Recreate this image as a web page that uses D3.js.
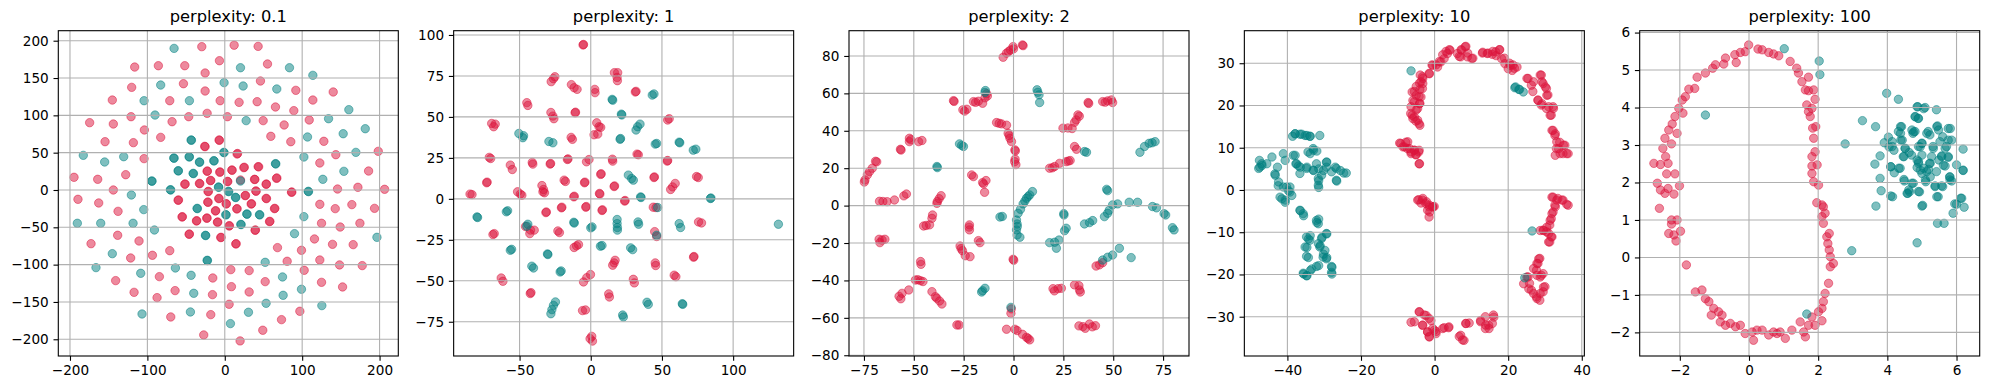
<!DOCTYPE html>
<html lang="en">
  <head>
    <meta charset="utf-8">
    <title>t-SNE perplexity</title>
    <script src="https://cdn.jsdelivr.net/npm/d3@7"></script>
    <style>
      body { margin: 0; background: #fff; }
      text { font-family: "DejaVu Sans", sans-serif; }
    </style>
  </head>
  <body>
    <script>
    var titles = ["perplexity: 0.1", "perplexity: 1", "perplexity: 2", "perplexity: 10", "perplexity: 100"];

    var xDomains = [[-215.1, 224.2], [-96.3, 142.5], [-82.5, 88.0], [-51.7, 40.7], [-3.16, 6.67]];
    var yDomains = [[-222.4, 213.4], [-95.9, 102.6], [-80.4, 93.5], [-39.3, 37.7], [-2.63, 6.05]];

    var xTicks = [[-200, -100, 0, 100, 200], [-50, 0, 50, 100], [-75, -50, -25, 0, 25, 50, 75], [-40, -20, 0, 20, 40], [-2, 0, 2, 4, 6]];
    var yTicks = [[-200, -150, -100, -50, 0, 50, 100, 150, 200], [-75, -50, -25, 0, 25, 50, 75, 100], [-80, -60, -40, -20, 0, 20, 40, 60, 80], [-30, -20, -10, 0, 10, 20, 30], [-2, -1, 0, 1, 2, 3, 4, 5, 6]];

    // perplexity 0.1
    var p1Red = [[-29.7,192],[12.1,194],[43.1,192.4],[-116.4,164.7],[-85.8,166.5],[-51.7,166.5],[-6.9,173.2],[55.2,168.8],[-25.4,156.7],[-53.4,142.4],[46.1,146],[-120.3,137.5],[-25.4,132.6],[91.8,133.5],[140.1,131.3],[-145.3,120.5],[-71.1,119.6],[-6,119.6],[18.5,117.4],[41.8,118.3],[113.8,120.5],[65.5,111.2],[89.2,106.3],[-121.1,98.2],[-46.6,98.2],[-22.8,102.7],[3.4,98.2],[49.6,92.9],[109.1,93.8],[-174.6,90.2],[-144,88.4],[-68.1,91.5],[76.7,87.1],[-103.9,80.4],[-82.8,70.5],[59.5,71.9],[-154.7,64.7],[-118.1,63.4],[85.3,64.7],[128,65.2],[-104.3,42],[143.5,47.3],[198.3,51.8],[122.8,36.2],[185.8,25.4],[-194.8,17],[-164.2,14.3],[-128,20.5],[206.5,0.9],[172,3.6],[145.7,1.3],[-144,0],[-189.7,-12.5],[-162.9,-17.4],[122.8,-19.2],[164.2,-19.6],[193.5,-24.6],[142.7,-25],[-137.9,-28.6],[125,-44.6],[149.1,-49.6],[174.6,-44.6],[-138.4,-60.7],[-172.8,-71.9],[-110.8,-68.3],[115.9,-65.6],[139.2,-72.8],[165.9,-73.2],[-71.1,-81.3],[-93.5,-87.5],[-121.6,-91.1],[68.1,-77.2],[99.1,-80.8],[80.6,-95.5],[122.8,-93.8],[148.3,-100.4],[177.6,-101.3],[-84.5,-116.1],[-15.5,-117.9],[7.8,-106.7],[31.5,-108],[102.6,-107.6],[-141,-121.4],[52.2,-122.8],[125,-123.7],[152.2,-129.9],[-117.2,-137.1],[-64.2,-134.8],[-15.9,-140.2],[8.6,-129.5],[31.5,-136.6],[-87.5,-144.2],[5.6,-153.1],[-69.8,-170.1],[-18.1,-167],[97,-162.5],[73.3,-173.7],[49.1,-187.9],[-27.2,-194.2],[19.8,-202.2],
      [-7.3,67],[-7,66.5],[-25.9,58.5],[-25.5,58],[15.9,48.2],[16.5,48.9],[24.6,29.9],[25.2,30.5],[43.1,31.3],[43.8,31],[-22.8,25],[-22.5,25.4],[-6.5,23.7],[-6,24.3],[9.1,26.8],[9.5,26.4],[20.3,13.4],[38.4,14.3],[38.9,14],[66.8,15.6],[67.3,16.1],[-51.7,7.6],[-51.2,8.1],[-32.8,8.9],[-32.3,8.4],[-18.5,12.5],[-18.1,12.9],[3.4,11.6],[3.9,11.2],[53.4,7.6],[53.8,8],[-21.6,-2.2],[-21.2,-1.8],[40.1,-1.3],[40.5,-1.7],[86.2,-3.1],[86.6,-2.7],[-60.3,-13.8],[-59.8,-13.4],[-22,-16.1],[-21.6,-16.6],[-7.8,-11.6],[-7.4,-11.2],[26.3,-7.6],[26.8,-7.2],[34.1,-18.8],[34.6,-18.4],[53.4,-11.2],[53.9,-11.6],[-12.1,-28.1],[-11.7,-27.7],[1.7,-18.3],[2.1,-18.7],[15.5,-25.4],[15.9,-25],[64.2,-25],[64.7,-24.6],[-55.2,-36.2],[-54.8,-35.8],[-36.6,-41.5],[-36.2,-41.1],[-23.3,-37.9],[-22.9,-37.5],[-9.5,-43.3],[-9.1,-42.9],[57.8,-42.4],[58.3,-42],[5.6,-48.2],[6,-47.8],[-46.1,-59.4],[-45.7,-59],[-5.2,-63.8],[-4.8,-63.4],[39.2,-54],[39.6,-53.6],[14.2,-72.3],[14.7,-71.9]];
    var p1Teal = [[-65.5,189.7],[20.3,163.8],[83.6,163.8],[113.8,153.6],[-82.8,140.6],[-0.9,143.8],[23.7,139.3],[67.2,135.3],[-104.3,119.6],[-45.7,119.6],[160.3,107.6],[-90.1,100.4],[27.6,92.9],[134.1,95.5],[181.5,82.1],[153,75.4],[106.9,71],[-182.8,46.4],[-130.6,44.6],[102.2,44.2],[169.4,50.4],[-155.2,37.5],[153.9,25],[126.7,14.3],[-120.7,-6.7],[-104.7,-26.3],[-190.5,-44.6],[-160.3,-44.6],[-118.5,-44.6],[102.2,-35.7],[-90.9,-53.6],[90.1,-58.5],[196.6,-63.4],[-145.3,-85.3],[52.2,-96.9],[-166.4,-104],[-63.8,-104.5],[-108.6,-111.6],[-43.5,-114.3],[74.6,-116.5],[99.1,-133],[-40.1,-138.4],[75.4,-141.1],[53.4,-151.8],[125.4,-154.9],[-106.9,-166.1],[-44.4,-163.4],[30.6,-163.8],[7.3,-179],
      [-43.5,67],[-43.1,66.6],[-1.3,50.4],[-0.9,50],[-65.9,42.9],[-65.5,42.5],[-46.1,44.6],[-45.7,44.2],[-32.8,37.5],[-32.4,37.1],[-14.2,39.3],[-13.8,38.9],[65.5,35.3],[65.9,34.9],[-60.3,25.9],[-59.9,25.5],[-40.9,22.3],[-40.5,21.9],[20.3,12],[-94.4,12.1],[-94,11.7],[-8.2,4],[-7.8,3.6],[-70.3,0.4],[-69.9,0],[4.7,-1.8],[5.1,-2.2],[107.8,-1.8],[108.2,-2.2],[13.8,-9.8],[14.2,-10.2],[-35.8,-24.6],[-35.4,-25],[28.4,-32.1],[28.8,-32.5],[1.3,-33],[1.7,-33.4],[44.8,-33],[45.2,-33.4],[20.7,-46],[21.1,-46.4],[-25,-60.7],[-24.6,-61.1],[-22.8,-94.2],[-22.4,-94.6]];

    // perplexity 1
    var p2Red = [[-5.4,93.9],[-5.1,94.2],[-27.8,71.5],[-26.2,73.3],[-25.2,74.5],[-13.6,69.7],[-11.7,67.8],[-9.6,66.8],[2.8,66.8],[3,64.8],[16.6,77],[18.9,77],[18.5,74.1],[18.7,72.1],[31.3,65.2],[31.8,65.6],[-44.9,58.7],[-44.2,57],[-28,52.7],[-26.6,50.5],[-25.9,48.9],[-11,52.5],[-10.7,52.9],[4.2,46.4],[5.8,44],[7,43.6],[2.3,39.1],[4.9,39.5],[54,48.1],[55.1,48.9],[-69.6,46],[-67.1,45.6],[-68.2,44],[-13.8,37.5],[-12.9,36.3],[-71.3,25.3],[-70.3,24.6],[-56.5,20.6],[-55.1,17.9],[-41.1,22.2],[-40.7,21.2],[-28.5,21.2],[-28.2,21.6],[-16.4,24],[-16,24.4],[-1.2,24],[-3,22.6],[15.2,24.2],[15.4,23],[32.5,27.3],[33.4,26.9],[53.7,23],[54,23.4],[44.4,13],[44.7,13.4],[74.3,13.6],[75.5,13],[-73.1,9.8],[-72.8,10.2],[-84.8,2.9],[-83.4,2.6],[-51.4,4.3],[-49.5,2.9],[-48.4,2.2],[-34.3,8.1],[-33.2,5.7],[-32.5,3.7],[-33.6,4.3],[-18.7,11.4],[-17.8,10.6],[-4.4,9.8],[-4.1,10.2],[7,14.9],[7.3,15.3],[16.4,7.5],[16.7,7.9],[-11.9,1.2],[-11.6,1.6],[6.1,3.3],[6.4,2.9],[57.5,7.3],[59.3,9.4],[56.1,5.7],[-20.6,-5.5],[-20.3,-5.1],[-31.5,-8.4],[-31.2,-8],[-3.5,-5.1],[-3.2,-4.7],[7.9,-7.1],[8.2,-6.7],[23.8,-1.4],[24.1,-1],[43.9,-5.1],[45.8,-5.3],[75.7,-14.1],[77.8,-14.7],[-45.8,-16.9],[-42.3,-19.1],[-39.7,-19.1],[-42.8,-21.2],[-23.1,-19.6],[-22,-20.6],[-68.7,-21.8],[-67.8,-21.2],[44.9,-20],[46.3,-23],[-11.7,-29.7],[-10,-28.7],[-8.6,-27.9],[17.1,-37.5],[15.4,-40.5],[16.4,-39.1],[45.3,-39.1],[45.6,-40.7],[72.2,-35.6],[72.5,-35.2],[58.6,-46.6],[59.8,-47.5],[-62.9,-48.3],[-61.7,-50.3],[-5.1,-50.7],[-2.8,-48.1],[-0.2,-46.2],[29.9,-49.1],[30.6,-51.3],[-42.5,-57.8],[-42,-57.2],[12.6,-58],[13.1,-59.9],[-5.8,-68.2],[-3.7,-67.8],[0.7,-83.9],[1.2,-86.8],[-0.5,-85.3]];
    var p2Teal = [[15,60.7],[15.4,60.2],[43.2,63.3],[44.4,64],[21.5,51.7],[21.8,51.2],[31.8,42],[32.9,44],[34.6,45.6],[20.6,36.3],[20.9,36.8],[45.3,33.4],[46.3,33.8],[62.1,34.6],[62.5,34.2],[72,29.7],[73.8,30.3],[-50.5,39.9],[-47.2,38.5],[-47.7,37.3],[-29.4,35],[-26.6,34.2],[26.4,14.5],[28.7,12.4],[29.9,11.4],[35.3,0.8],[35,1.2],[84.1,0.2],[84.4,0.5],[-79.9,-11],[-79.5,-11.4],[-59.3,-7.9],[-58.4,-7.3],[-44.2,-15.5],[-44.9,-16.7],[-11.9,-14.3],[-11.6,-14.8],[0,-17.7],[0.9,-17.1],[18.5,-12.6],[18.5,-15.1],[18.7,-17.5],[18.7,-19.1],[33.2,-14.1],[33.6,-15.5],[62.1,-15.1],[63.1,-17.5],[46.3,-22.2],[47,-5.3],[131.8,-15.5],[-56.5,-31.4],[-55.6,-30.8],[-30.1,-34],[-30.4,-33.6],[-41.4,-41.1],[-40.2,-42.2],[-20.8,-44],[-21.5,-44.6],[6.8,-28.9],[7.9,-28.5],[28,-29.9],[29.4,-31],[39.5,-63.1],[40.4,-64.4],[64.3,-64],[64.6,-64.4],[22.4,-70.9],[22.9,-72.1],[-24.8,-62.9],[-26.2,-65],[-27.3,-67.6],[-28,-70.1]];

    // perplexity 2
    var p3Red = [[-5.2,79.3],[-3.5,81.5],[-1.5,83.2],[-0.2,85],[4.5,85.9],[-2.5,82.3],[0,83.8],[4.8,85.5],[-30.1,56.1],[-29.8,55.7],[-25.4,51.2],[-23.4,51.5],[-24.5,50.5],[-20.1,55.6],[-17.6,55.8],[-15.5,54.7],[-13.1,58.6],[-14.3,57.6],[-19,55.2],[-13.5,59.8],[37.4,55.1],[37.7,54.6],[44.7,55.6],[47.2,56],[49.1,56.5],[49.7,55.1],[46,55.3],[-8.5,44.4],[-6,43.7],[-3.5,43],[-7.2,44],[-2.7,38.7],[-1.8,36],[-1,34.2],[-2.2,37.5],[0.7,29.8],[0.8,24.8],[1.2,21.9],[0.9,29.2],[0.6,23.5],[24.8,41.4],[27.3,41.5],[29.4,41.2],[31.4,45.8],[32.3,48.5],[30.6,44.5],[33,47.8],[30.6,31.6],[31.6,30.1],[18.1,20],[20.6,20.9],[23.1,22.6],[26.4,23.5],[28.4,24.1],[19.5,20.2],[27.5,23.8],[-74.5,13.7],[-73.3,16.4],[-72.2,18.2],[-70.8,20],[-69.2,23.7],[-74.8,12.6],[-68.6,23.4],[-56.7,30.1],[-56.4,29.7],[-52.2,34.2],[-52.2,36],[-47.6,34.2],[-45.9,34.8],[-51.5,35.2],[-21,16.4],[-20.1,15.5],[-15.5,12.3],[-13.8,13.4],[-14.5,7.1],[-15,11.6],[-67.2,2.3],[-63.4,2.1],[-59.7,3],[-65.5,2.2],[-55,5.2],[-53.7,6.2],[-38.4,1.2],[-37.3,3.7],[-36.3,5.3],[-38.2,2.2],[-40.9,-6.8],[-40.6,-5],[-45.1,-10.9],[-42.1,-10.3],[-43.8,-10.6],[-22.1,-10.3],[-22.1,-13],[-22.3,-11.5],[-67.4,-18],[-65.9,-18.4],[-64.5,-18],[-67,-19.8],[-26.8,-21.6],[-25.6,-24.1],[-21.8,-27.3],[-24.2,-26.8],[-26.3,-23],[-17.6,-18.7],[-16.8,-19.8],[-0.2,-28.7],[0.1,-29.2],[-46.6,-29.9],[-46.4,-31.4],[-49.2,-39.8],[-46.7,-40.1],[-45.4,-40.6],[-48,-39.6],[-57.4,-48.5],[-55.9,-46.9],[-52.5,-45.1],[-56.5,-49.8],[-40.9,-46],[-39.2,-48.7],[-37.1,-51],[-35.9,-52.6],[-38.5,-49.5],[-28.4,-63.8],[-27.3,-63.8],[19.8,-44.4],[22.3,-44.4],[24,-44.2],[20.5,-45.6],[30.6,-42.4],[33.1,-45.1],[32.8,-42.8],[33.5,-46.2],[41.4,-32.3],[43.1,-31.7],[44.7,-30.5],[32.8,-64.3],[34.8,-64.7],[38.1,-63.3],[41.1,-64.2],[36,-65.6],[39.5,-64.8],[-3.5,-66.1],[0.7,-66.1],[4.5,-68.8],[6.5,-70.4],[8.1,-71.8],[1.8,-66.8],[7.3,-71],[-1.3,-57.6],[-1.1,-55.2]];
    var p3Teal = [[-14.1,61.5],[-14.3,60.5],[11.8,61.9],[12.8,59.2],[13.1,55.1],[12.2,60.6],[-27.1,33],[-25.1,31.6],[-26,32.2],[-38.4,20.9],[-38.2,20.3],[35.6,28.9],[36.6,28.5],[63.4,28.5],[65.7,31.6],[68,33.3],[71,34.2],[69.5,33.6],[46.7,8.7],[47.2,8],[-6.8,-6.1],[-5.6,-5.8],[1.5,-7.7],[2.3,-4.1],[3.5,-2],[4.8,0.9],[6.5,3.9],[8.1,5.7],[9.5,7.5],[5.7,2.4],[7.3,4.8],[1.8,-9.8],[1.5,-13],[1.8,-15.7],[3.2,-16.9],[1.9,-11.2],[18.1,-19.8],[20.6,-19.6],[22.8,-18.4],[21.5,-22.8],[25.3,-5],[26.4,-12.1],[25.6,-13.4],[25.2,-4.3],[35.6,-9.8],[38.1,-9.1],[39.7,-8],[45.6,-5.9],[47.2,-4.1],[49.7,0.4],[52.2,0.9],[48,-2.5],[58,1.8],[62.2,1.8],[69.7,-0.5],[71.7,-1.2],[75.5,-4.3],[76.3,-5],[79.7,-11.8],[80.5,-13],[53.1,-22.8],[44.7,-29.1],[47.2,-27.6],[49.7,-26.4],[59,-27.8],[-15.5,-45.5],[-14.3,-44.2],[-16,-46.2],[-1.3,-54.4]];

    // perplexity 10
    var p4Red = [[-3.9,27.2],[-3.2,26.4],[-4.1,25.3],[-5,24.5],[-4,23.8],[-6.1,23.2],[-5,22.4],[-5.9,21.2],[-4.1,20.4],[-6.4,19.7],[-5,18.9],[-6.1,17.7],[-4.6,16.5],[-4,15.3],[-5.9,16.9],[-3.7,22],[-3.2,25.2],[-1.4,27.5],[-0.5,29.5],[0.8,29.1],[1.7,30.3],[2.6,31.1],[3.5,32.3],[4.2,33.1],[6.2,32.3],[7.4,33.1],[8.3,33.9],[8.9,31.5],[10.1,31.1],[7.1,31.5],[13,32.4],[14.3,32.3],[15.7,32.1],[16.6,32.7],[17.7,33.2],[18.2,31.1],[19.1,29.9],[20,28.7],[21.1,28.3],[22.4,29.1],[20.6,29.5],[25.1,26.4],[26.9,25.6],[28.7,27.2],[29.2,25.6],[30.1,24.4],[28.1,21.2],[29.2,20.4],[30.5,22.4],[31,19.7],[32.3,19.3],[31.4,17.7],[31.9,14.1],[32.8,13.3],[33.2,11.4],[33.7,9.8],[35,10.6],[35.9,8.6],[34.1,8.6],[32.8,8.2],[-9.5,11.1],[-8.6,10.2],[-7.3,11.4],[-6.8,9.8],[-5.5,9.4],[-4.3,9],[-5,8.4],[-4.1,6.2],[-8.2,10.2],[-6.4,9],[-4.3,-2.3],[-3.2,-2],[-2.2,-2.8],[-1.4,-3.6],[-0.5,-4],[-1.3,-5.2],[-0.1,-3.9],[-3.7,-3.1],[31.9,-1.7],[33.2,-2.4],[34.6,-2.4],[35.9,-3.4],[32.8,-4],[31.9,-5.6],[31.4,-7.2],[30.5,-8.8],[28.7,-9.6],[29.6,-9.6],[31,-10.3],[31.9,-11.1],[31,-12.3],[28.3,-16.3],[27.8,-17.4],[26.9,-18.6],[28.7,-20.6],[27.8,-20.2],[25.1,-20.6],[24.2,-22.2],[25.6,-23.4],[26.9,-24.5],[27.8,-25.7],[28.7,-24.5],[29.6,-23],[-6.4,-31.3],[-4.1,-28.9],[-2.3,-29.7],[-1,-30.9],[-3.2,-32],[-1.9,-33.6],[-0.1,-33.2],[-1.4,-34.8],[0.4,-34],[2.2,-32.8],[3.8,-32.6],[7.1,-34.4],[8,-35.6],[8.5,-31.6],[9.4,-31.5],[12.5,-30.9],[13.9,-32],[14.8,-32.8],[16.1,-30.1],[15.7,-31.6],
      [3.1,32.8],[2.2,32],[4,33.2],[6.7,31.6],[7.2,33.2],[8.5,34],[9,32.4],[10.4,31.2],[13.1,32.6],[14.5,32.4],[15.8,32.8],[16.7,31.8],[17.6,33.2],[19,31.2],[20.4,30],[21.7,28.8],[21.3,29.6],[0.4,29.6],[-0.7,29.6],[1.3,30.4],[-1.5,27.6],[-3.3,26.8],[-3.7,25.6],[-3.3,24],[-5.5,23.3],[-4.2,22.1],[-5.5,20.9],[-4,20.5],[-4.6,19.3],[-6.5,18.1],[-5.5,17.3],[-4.2,15.7],[-5.1,16.3],[-9.2,11],[-7.8,11.3],[-7.4,9.8],[-5.5,9.4],[-4.2,9.4],[-6.4,8.6],[-5.1,8.3],[-4.2,6.2],[25.4,26.4],[26.3,24.8],[26.7,23.3],[29,27.2],[29.5,25.2],[30.4,24],[30.8,22.5],[28.1,21.3],[29,20.1],[30.4,19.3],[32.2,19.7],[31.7,17.7],[32.2,14.1],[32.7,12.9],[34,11.3],[35.4,10.6],[33.1,9.8],[34.9,8.6],[36.3,8.6],
      [-4.6,-2.4],[-3.3,-2.4],[-2.4,-3.2],[-1.5,-4],[-0.5,-4],[-1.5,-6.4],[-1.9,-4.8],[32.2,-1.7],[33.5,-2],[34.9,-2.4],[36.3,-3.6],[32.7,-3.6],[32.2,-5.2],[31.7,-6.8],[31.3,-8.3],[29.5,-9.5],[30.4,-9.9],[31.7,-11.1],[31.3,-12.3],[28.6,-16.2],[28.1,-17.4],[27.7,-19],[29,-20.2],[29.5,-19.8],[25.4,-20.6],[25.8,-22.1],[26.3,-23.7],[27.7,-25.3],[28.6,-26.1],[29.5,-24.1],[30,-22.9],[-5.5,-31.2],[-4.2,-28.8],[-2.8,-29.6],[-1.5,-30.4],[-3.3,-32],[-1.9,-33.6],[-0.5,-32.8],[-1.5,-34.7],[0.4,-33.5],[2.6,-32.6],[3.9,-32.4],[6.7,-34.7],[7.6,-35.5],[8.5,-31.6],[12.5,-31.2],[13.8,-30],[14.7,-32],[16,-29.6],[13.8,-32.8]];
    var p4Teal = [[-6.4,28.2],[21.8,24.2],[22.9,23.8],[24.1,23.2],[26.5,-9.7],[24.5,-20.8],[-47.6,7],[-46.9,5.8],[-47.8,5.1],[-44.2,7.8],[-41.1,8.6],[-37.9,8.2],[-37.7,6.2],[-40.6,7],[-42.7,5.4],[-43.3,3.5],[-42.4,1.9],[-40.2,0.7],[-39.3,-0.5],[-42,-1.7],[-40.6,-2.4],[-39.3,0.7],[-37,5.7],[-36.6,3.9],[-34.8,5.1],[-33,4.7],[-32.1,6.2],[-31.6,2.7],[-30.7,3.5],[-29.4,6.6],[-29.4,5.4],[-28,4.3],[-26.7,5.1],[-24.7,4],[-26.7,2.3],[-31.6,1.1],[-37.9,13.3],[-36.6,13.2],[-35.2,12.9],[-33.9,12.7],[-31.2,12.9],[-34.4,9],[-33,9.8],[-38.6,12.7],[-36.6,-4.8],[-35.7,-5.6],[-32.1,-7.2],[-31.6,-8],[-34.8,-11.1],[-33.9,-11.9],[-35.2,-13.5],[-34.8,-15.7],[-31.6,-12.7],[-30.7,-11.5],[-29.4,-10.3],[-31.2,-13.5],[-29.8,-14.3],[-30.3,-15.9],[-29.4,-16.3],[-35.7,-19.7],[-34.8,-20.3],[-33.4,-18.7],[-32.1,-18.1],[-28,-18.1],[-28,-19.5],
      [22,24.4],[23.1,23.8],[-37.9,13.3],[-36.1,13.2],[-34.7,12.9],[-33.8,12.7],[-32.9,9.4],[-32,9.2],[-33.8,8.6],[-38.4,8.2],[-47,6.2],[-47.5,5.4],[-45.6,6.2],[-37.5,6.2],[-36.5,5.4],[-34.7,5.4],[-32.9,4.6],[-31.5,5],[-30.2,4.6],[-29.3,6.6],[-27,5.4],[-25.6,4.6],[-24,4],[-26.6,2.1],[-31.5,2.2],[-31.5,0.6],[-43.4,3.8],[-42.5,1],[-41.1,0.7],[-39.7,-0.2],[-41.5,-2.1],[-40.6,-2.9],[-38.8,-1.3],[-36.5,-4.9],[-35.6,-6.1],[-31.5,-6.9],[-32,-7.7],[-34.3,-11.6],[-33.8,-10.8],[-30.6,-11.2],[-29.3,-10.4],[-34.7,-13.6],[-31.1,-13.2],[-30.2,-15.2],[-29.3,-16],[-34.3,-16],[-27.9,-18.3],[-27.9,-19.9],[-31.5,-17.9],[-33.8,-19.1],[-35.6,-19.9],[-34.7,-20.3]];

    // perplexity 100
    var p5Red = [[-1.55,-0.92],[-1.36,-0.87],[-1.26,-1.1],[-1.16,-1.18],[-1.09,-1.54],[-1.02,-1.36],[-0.88,-1.45],[-0.78,-1.54],[-0.83,-1.72],[-0.68,-1.81],[-0.54,-1.76],[-0.39,-1.85],[-0.25,-1.81],[-0.11,-2.03],[0.09,-1.99],[0.13,-2.21],[0.23,-1.94],[0.38,-1.94],[0.57,-2.07],[0.71,-1.99],[0.81,-2.03],[0.9,-1.99],[1.05,-2.16],[1.24,-1.94],[1.48,-1.72],[1.58,-1.99],[1.63,-2.12],[1.72,-1.81],[1.82,-1.59],[1.91,-1.81],[2.01,-1.45],[2.11,-1.36],[2.11,-1.69],[2.15,-1.18],[2.2,-0.96],[2.3,-0.69],[2.35,-0.25],[2.44,-0.16],[2.35,0.02],[2.32,0.2],[2.28,0.37],[2.25,0.55],[2.32,0.64],[2.15,0.91],[2.11,1.09],[2.2,1.18],[2.15,1.35],[2.11,1.4],[1.96,1.46],[2.01,1.93],[1.87,2.02],[1.82,2.24],[1.97,2.47],[1.82,2.44],[1.82,2.69],[1.91,2.82],[1.87,3.18],[1.93,3.49],[1.84,3.45],[1.77,3.76],[1.72,3.89],[1.82,3.98],[1.67,4.07],[1.91,4.22],[1.87,4.47],[1.72,4.45],[1.63,4.47],[1.53,4.69],[1.72,4.81],[1.43,4.92],[1.38,5.05],[1.19,5.23],[0.86,5.38],[0.71,5.43],[0.57,5.47],[0.38,5.54],[0.26,5.56],[-0.01,5.67],[-0.11,5.49],[-0.25,5.47],[-0.41,5.41],[-0.37,5.2],[-0.68,5.32],[-0.73,5.16],[-0.97,5.14],[-1.05,5.05],[-1.26,4.92],[-1.5,4.81],[-1.57,4.51],[-1.74,4.49],[-1.84,4.29],[-1.93,4.2],[-2.03,3.98],[-1.91,3.85],[-2.14,3.76],[-2.22,3.56],[-2.32,3.4],[-2.08,3.31],[-2.43,3.18],[-2.24,3.03],[-2.49,2.91],[-2.41,2.69],[-2.34,2.51],[-2.75,2.51],[-2.56,2.48],[-2.38,2.23],[-2.14,2.23],[-2.65,1.98],[-2.56,1.8],[-2.43,1.71],[-2.34,1.84],[-2.17,1.69],[-2.01,1.91],[-2.59,1.31],[-2.24,1],[-2.08,1],[-2.24,0.89],[-2.32,0.64],[-2.17,0.6],[-1.98,0.7],[-2.11,0.44],[-1.81,-0.2]];
    var p5Teal = [[1.02,5.57],[2.03,5.24],[2.05,4.88],[-1.26,3.8],[3.98,4.38],[4.32,4.22],[3.28,3.65],[3.66,3.49],[2.78,3.03],[2.97,0.18],[4.86,0.39],[1.67,-1.51],[4.88,4.02],[5.09,4],[5.42,3.94],[4.8,3.76],[4.9,3.71],[5.45,3.51],[5.82,3.44],[4.41,3.49],[4.32,3.36],[4.74,3.31],[4.8,3.36],[5.18,3.36],[5.23,3.27],[5.6,3.22],[5.86,3.13],[4.03,3.21],[3.91,3.06],[4.14,2.96],[4.39,3.13],[4.51,2.91],[4.63,2.8],[4.9,2.96],[5,3.05],[5.32,2.96],[5.71,2.96],[6.19,2.89],[3.79,2.71],[4.46,2.69],[4.7,2.73],[5,2.73],[5.28,2.69],[5.57,2.71],[5.76,2.67],[4.9,2.56],[5.22,2.51],[5.49,2.6],[3.64,2.49],[4.1,2.42],[4.37,2.38],[4.86,2.4],[5.19,2.35],[5.67,2.44],[6,2.47],[6.19,2.32],[4.2,2.26],[5,2.24],[5.42,2.29],[5.8,2.15],[3.79,2.11],[4.49,2.04],[4.75,1.98],[5.11,2.02],[5.86,2.04],[5.38,1.89],[5.6,1.89],[4.64,1.75],[4.59,1.71],[3.82,1.78],[4.93,1.75],[4.15,1.62],[5.47,1.62],[6.15,1.58],[6,1.42],[6.22,1.34],[3.67,1.37],[5.02,1.39],[5.9,1.18],[5.45,0.91],[5.64,0.91],
      [4.86,4.02],[5.05,3.97],[4.81,3.75],[4.89,3.71],[4.38,3.49],[4.71,3.4],[4.76,3.35],[5.14,3.31],[5.43,3.49],[5.48,3.4],[5.76,3.44],[4.38,3.31],[4.43,3.13],[4.14,3.09],[4.05,2.95],[4.19,2.86],[4.52,2.91],[4.48,2.69],[4.95,2.95],[5,3.04],[5.33,2.91],[5.52,3.09],[5.67,2.91],[5.76,3.13],[4.86,2.6],[4.9,2.51],[5.24,2.51],[4.95,2.33],[5.05,2.38],[5.57,2.69],[5.76,2.69],[5.62,2.46],[6.19,2.33],[4.1,2.42],[4.33,2.38],[5.14,2.29],[5.24,2.15],[5.1,2.07],[5.38,1.91],[5.57,1.91],[5.81,2.07],[5.81,2.15],[4.71,1.98],[4.9,1.76],[4.62,1.8],[4.57,1.71],[4.48,2.08],[4.1,1.64],[5.43,1.62],[5,1.37],[6.12,1.58],[5.95,1.43]];

    var redSets = [p1Red, p2Red, p3Red, p4Red, p5Red];
    var tealSets = [p1Teal, p2Teal, p3Teal, p4Teal, p5Teal];

    var w = 1989;
    var h = 390;
    var axLeft = 58.3, axStep = 395.35, axW = 340, axTop = 30.7, axH = 325.3;
    var red = "#dc143c", teal = "#008080";

    var svg = d3.select("body").append("svg").attr("width", w).attr("height", h);

    titles.forEach(function(t, i) {
      var x = d3.scaleLinear().domain(xDomains[i]).range([0, axW]);
      var y = d3.scaleLinear().domain(yDomains[i]).range([axH, 0]);
      var g = svg.append("g").attr("transform", "translate(" + (axLeft + i * axStep) + "," + axTop + ")");

      g.append("clipPath").attr("id", "clip" + i).append("rect").attr("width", axW).attr("height", axH);
      var pts = g.append("g").attr("clip-path", "url(#clip" + i + ")");

      // points
      [[redSets[i], red], [tealSets[i], teal]].forEach(function(s) {
        pts.selectAll(null).data(s[0]).enter().append("circle")
          .attr("cx", function(d) { return x(d[0]); })
          .attr("cy", function(d) { return y(d[1]); })
          .attr("r", 4.2)
          .attr("fill", s[1]).attr("fill-opacity", 0.5)
          .attr("stroke", s[1]).attr("stroke-opacity", 0.5).attr("stroke-width", 1);
      });

      // grid sits on top of the points, like matplotlib
      g.selectAll(null).data(xTicks[i]).enter().append("line")
        .attr("x1", function(d) { return x(d); }).attr("x2", function(d) { return x(d); })
        .attr("y1", 0).attr("y2", axH)
        .attr("stroke", "#b0b0b0").attr("stroke-width", 1.1);
      g.selectAll(null).data(yTicks[i]).enter().append("line")
        .attr("y1", function(d) { return y(d); }).attr("y2", function(d) { return y(d); })
        .attr("x1", 0).attr("x2", axW)
        .attr("stroke", "#b0b0b0").attr("stroke-width", 1.1);

      g.append("rect").attr("width", axW).attr("height", axH)
        .attr("fill", "none").attr("stroke", "#000").attr("stroke-width", 1.1);

      var xa = g.append("g").attr("transform", "translate(0," + axH + ")")
        .call(d3.axisBottom(x).tickValues(xTicks[i]).tickSize(4.8).tickPadding(4.8).tickSizeOuter(0).tickFormat(d3.format("d")));
      var ya = g.append("g")
        .call(d3.axisLeft(y).tickValues(yTicks[i]).tickSize(4.8).tickPadding(4.8).tickSizeOuter(0).tickFormat(d3.format("d")));
      [xa, ya].forEach(function(a) {
        a.select(".domain").remove();
        a.selectAll(".tick line").attr("stroke", "#000").attr("stroke-width", 1.1);
        a.selectAll(".tick text").attr("fill", "#000").attr("font-size", "13.6px").attr("font-family", "DejaVu Sans");
      });

      g.append("text").attr("x", axW / 2).attr("y", -8.5)
        .attr("text-anchor", "middle").attr("font-size", "16.3px").attr("fill", "#000")
        .text(t);
    });
    </script>
  </body>
</html>
